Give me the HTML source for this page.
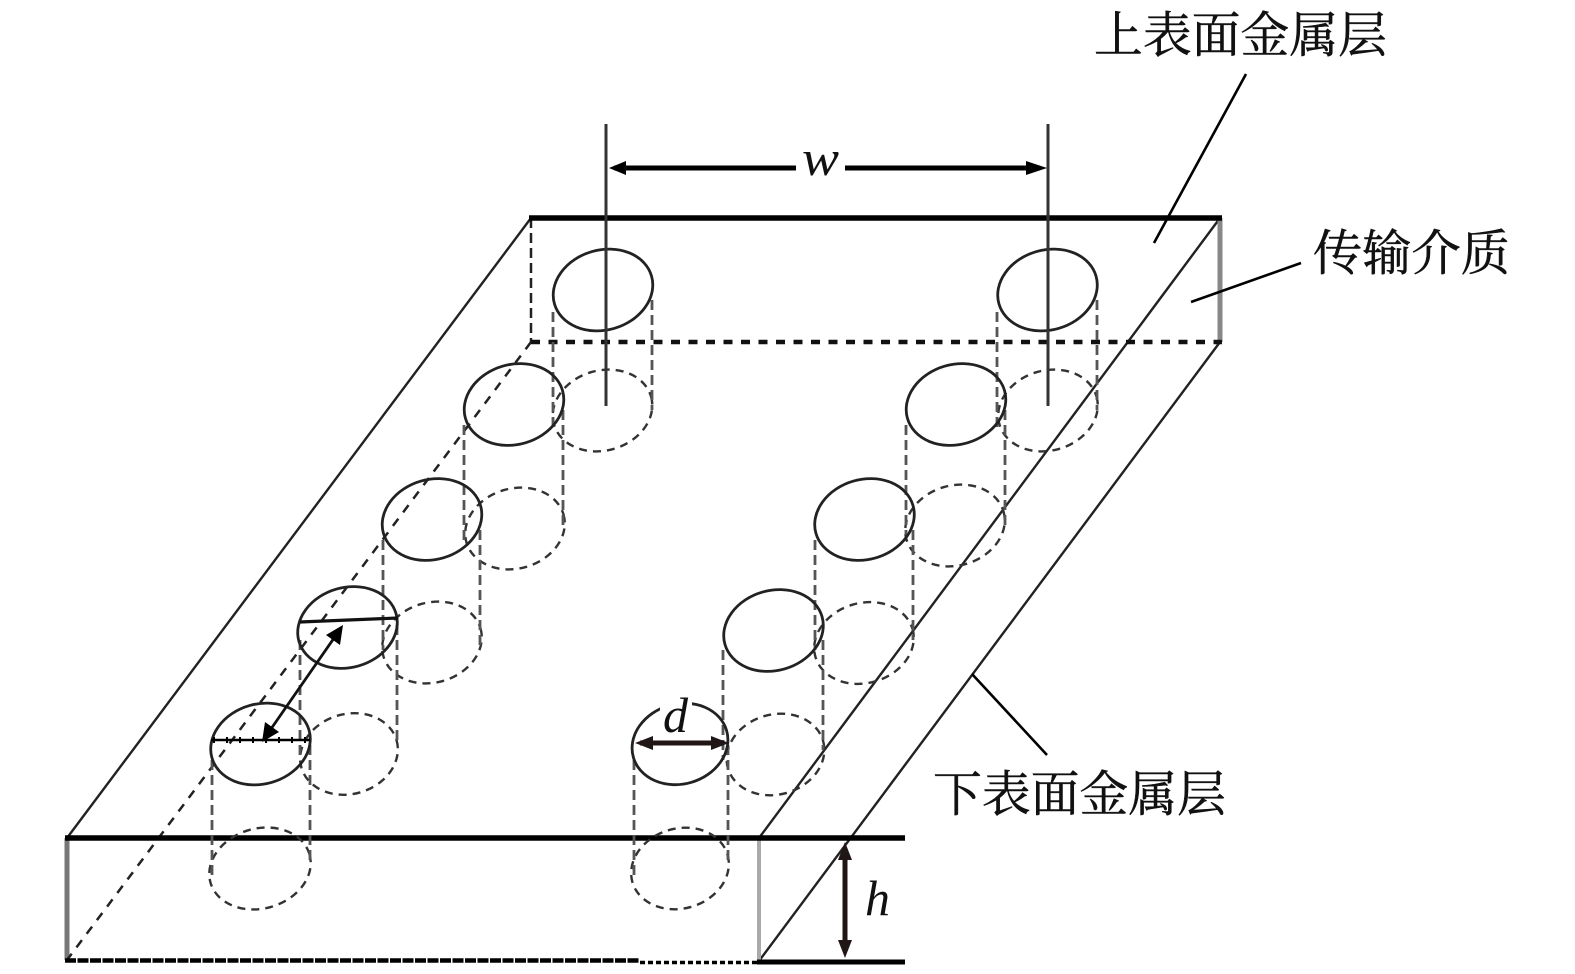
<!DOCTYPE html>
<html>
<head>
<meta charset="utf-8">
<style>
html,body{margin:0;padding:0;background:#fff;width:1575px;height:974px;overflow:hidden}
svg{display:block}
.cn{font-family:"Liberation Serif","Noto Serif CJK SC",serif;font-size:49px;fill:#111;stroke:#111;stroke-width:.5px}
.it{font-family:"Liberation Serif",serif;font-style:italic;font-size:50px;fill:#111}
</style>
</head>
<body>
<svg width="1575" height="974" viewBox="0 0 1575 974" xmlns="http://www.w3.org/2000/svg">
<g fill="none" stroke="#222" stroke-width="2.4">
<!-- slab outline -->
<path d="M531 218L67 838M1220 218L759 838M1220 342L759 961"/>
<path d="M67 838V960" stroke="#777" stroke-width="5"/>
<path d="M759 838V961" stroke="#aaa" stroke-width="4"/>
<path d="M1220 218V342" stroke="#888" stroke-width="5"/>
<path d="M531 218V342" stroke-dasharray="10 5" stroke-width="2.5"/>
<path d="M531 342L67 960" stroke-dasharray="9 8" stroke-width="2.5"/>
<path d="M531 342H1222" stroke="#111" stroke-width="4.5" stroke-dasharray="9 8.5"/>
<path d="M529 218H1222" stroke-width="5.5" stroke="#000"/>
<path d="M65 838H905" stroke-width="5.5" stroke="#000"/>
<path d="M65 960.5H640" stroke="#000" stroke-width="4.5" stroke-dasharray="11 1.5"/>
<path d="M640 962.5H759" stroke="#000" stroke-width="3.5" stroke-dasharray="5 3"/>
<path d="M757 962H905" stroke-width="5" stroke="#000"/>

<!-- vias: lower dashed ellipses -->
<g stroke-dasharray="8 6" stroke-width="2.4" stroke="#333">
<ellipse cx="602.5" cy="410.5" rx="50.5" ry="40" transform="rotate(-16 602.5 410.5)"/>
<ellipse cx="1048" cy="410.5" rx="50.5" ry="40" transform="rotate(-16 1048 410.5)"/>
<ellipse cx="515" cy="528.5" rx="50.5" ry="40" transform="rotate(-16 515 528.5)"/>
<ellipse cx="955" cy="525.5" rx="50.5" ry="40" transform="rotate(-16 955 525.5)"/>
<ellipse cx="432" cy="642.5" rx="50.5" ry="40" transform="rotate(-16 432 642.5)"/>
<ellipse cx="864" cy="643" rx="50.5" ry="40" transform="rotate(-16 864 643)"/>
<ellipse cx="349" cy="754" rx="49.5" ry="40" transform="rotate(-16 349 754)"/>
<ellipse cx="775.5" cy="754.5" rx="49.5" ry="40" transform="rotate(-16 775.5 754.5)"/>
<ellipse cx="260" cy="868.5" rx="51.5" ry="40" transform="rotate(-16 260 868.5)"/>
<ellipse cx="680" cy="868.5" rx="49.5" ry="40" transform="rotate(-16 680 868.5)"/>
</g>
<!-- cylinder sides -->
<path stroke="#555" stroke-width="2.8" stroke-dasharray="10 5" d="M553 312V428M652 300V410M997 312V428M1097 300V410M464 425V540M563 410V530M906 425V535M1005 410V525M383 540V650M480 530V645M815 540V650M913 530V640M300 640V760M397 625V745M723 650V760M823 640V750M212 760V880M310 745V860M634 760V880M728 745V860"/>

<!-- vias: top solid ellipses -->
<g stroke-width="2.8">
<ellipse cx="603" cy="290" rx="50.5" ry="40" transform="rotate(-16 603 290)"/>
<ellipse cx="1047.5" cy="290" rx="50.5" ry="40" transform="rotate(-16 1047.5 290)"/>
<ellipse cx="514" cy="404.5" rx="50.5" ry="40" transform="rotate(-16 514 404.5)"/>
<ellipse cx="956" cy="404.5" rx="50.5" ry="40" transform="rotate(-16 956 404.5)"/>
<ellipse cx="432" cy="519.5" rx="50.5" ry="40" transform="rotate(-16 432 519.5)"/>
<ellipse cx="864.5" cy="519.5" rx="50.5" ry="40" transform="rotate(-16 864.5 519.5)"/>
<ellipse cx="347.5" cy="627.5" rx="50.5" ry="40" transform="rotate(-16 347.5 627.5)"/>
<ellipse cx="773.5" cy="630.5" rx="50.5" ry="40" transform="rotate(-16 773.5 630.5)"/>
<ellipse cx="260.5" cy="744" rx="50.5" ry="40" transform="rotate(-16 260.5 744)"/>
<ellipse cx="680" cy="744" rx="48.5" ry="40" transform="rotate(-16 680 744)"/>
</g>

<!-- dimension lines -->
<path d="M606 124V406M1048 124V406" stroke="#333" stroke-width="3"/>
<path d="M614 168H796M845 168H1040" stroke="#000" stroke-width="5"/>
<path d="M609 168L626 161V175Z M1047 168L1026 161V175Z" fill="#000" stroke="none"/>
<path d="M845 850V950" stroke="#201616" stroke-width="5"/>
<path d="M845 842L838 860H852Z M845 958L838 940H852Z" fill="#201616" stroke="none"/>
<path d="M640 743H724" stroke="#201616" stroke-width="5"/>
<path d="M635 743L653 736V750Z M729 743L711 736V750Z" fill="#201616" stroke="none"/>
<path d="M300 622L398 618" stroke="#111" stroke-width="3.2"/>
<path d="M211 740H310" stroke="#000" stroke-width="2.6"/>
<path d="M213 740H310" stroke="#000" stroke-width="6" stroke-dasharray="2 11"/>
<path d="M264 739L341 628" stroke="#111" stroke-width="2.8"/>
<path d="M262 742L265 722L279 732Z M343 625L340 645L326 635Z" fill="#000" stroke="none"/>

<!-- leader lines -->
<path d="M1246 74L1154 243M1301 263L1191 302M972 674L1047 755" stroke="#000" stroke-width="2.6"/>
</g>

<rect x="660" y="698" width="32" height="14" fill="#fff"/>
<text class="cn" x="1094" y="52" textLength="293" lengthAdjust="spacingAndGlyphs">上表面金属层</text>
<text class="cn" x="1313" y="270" textLength="197" lengthAdjust="spacingAndGlyphs">传输介质</text>
<text class="cn" x="933" y="811" textLength="293" lengthAdjust="spacingAndGlyphs">下表面金属层</text>
<text class="it" x="802" y="175" textLength="37" lengthAdjust="spacingAndGlyphs">w</text>
<text class="it" x="663" y="732">d</text>
<text class="it" x="865" y="915">h</text>
</svg>
</body>
</html>
